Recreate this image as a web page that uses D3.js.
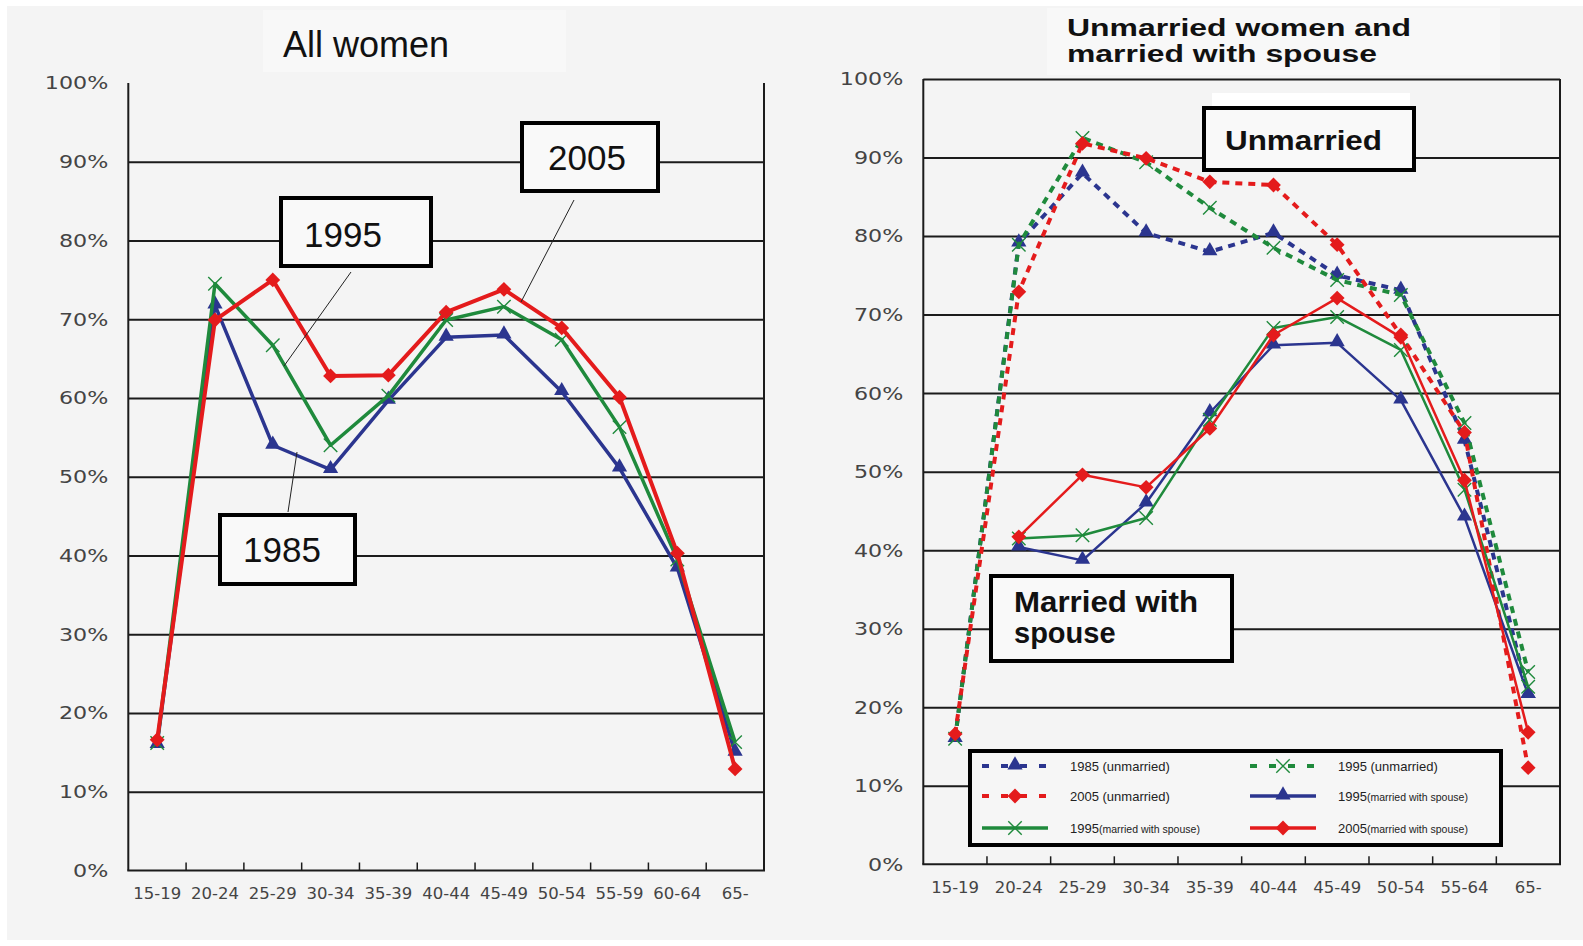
<!DOCTYPE html>
<html>
<head>
<meta charset="utf-8">
<script src="https://cdn.jsdelivr.net/npm/d3@7"></script>
<style>
body { margin: 0; background: #ffffff; }
svg { display: block; }
.ylab { font-family: "DejaVu Sans", sans-serif; font-size: 18.5px; fill: #444; }
.xlab { font-family: "DejaVu Sans", sans-serif; font-size: 16.5px; fill: #444; }
.box-text { font-family: "Liberation Sans", Arial, sans-serif; fill: #111; }
.legend--text { font-family: "Liberation Sans", Arial, sans-serif; font-size: 13px; fill: #222; }
</style>
</head>
<body>
<svg id="chart" width="1583" height="946"></svg>
<script>
// categories
const leftCats = ["15-19", "20-24", "25-29", "30-34", "35-39", "40-44", "45-49", "50-54", "55-59", "60-64", "65-"];
const rightCats = ["15-19", "20-24", "25-29", "30-34", "35-39", "40-44", "45-49", "50-54", "55-64", "65-"];
const yTicks = [0, 10, 20, 30, 40, 50, 60, 70, 80, 90, 100];

// All women (%)
const all1985 = [16.0, 71.8, 54.0, 50.9, 59.7, 67.7, 68.0, 60.8, 51.1, 38.4, 15.0];
const all1995 = [16.2, 74.5, 66.7, 54.0, 60.3, 69.9, 71.6, 67.4, 56.3, 39.5, 16.3];
const all2005 = [16.6, 69.9, 75.0, 62.8, 62.9, 70.9, 73.8, 68.9, 60.1, 40.3, 12.9];

// Unmarried (%)
const unm1985 = [16.0, 79.1, 88.0, 80.4, 78.0, 80.4, 75.0, 73.1, 54.0, 21.6];
const unm1995 = [16.0, 78.9, 92.5, 89.4, 83.6, 78.5, 74.4, 72.5, 56.2, 24.5];
const unm2005 = [16.6, 72.9, 91.8, 89.9, 86.9, 86.5, 78.9, 67.4, 55.0, 12.3];

// Married with spouse (%)
const mar1985 = [null, 40.4, 38.7, 46.0, 57.5, 66.1, 66.4, 59.1, 44.2, 21.6];
const mar1995 = [null, 41.5, 41.9, 44.1, 56.6, 68.3, 69.7, 65.5, 47.7, 22.6];
const mar2005 = [null, 41.7, 49.6, 48.0, 55.5, 67.4, 72.1, 67.1, 48.9, 16.8];

const blue = "#2b358f";
const green = "#1f8a3c";
const red = "#e41b1c";

const svg = d3.select("#chart");

// background panel
svg.append("rect").attr("x", 7).attr("y", 6).attr("width", 1576).attr("height", 934).attr("fill", "#f4f4f4");
svg.append("rect").attr("x", 263).attr("y", 10).attr("width", 303).attr("height", 62).attr("fill", "#f8f8f8");
svg.append("rect").attr("x", 1047).attr("y", 8).attr("width", 453).attr("height", 67).attr("fill", "#f8f8f8");

function marker(sel, type, color, cx, cy) {
    if (type === "triangle") {
        sel.append("path")
            .attr("d", d3.symbol(d3.symbolTriangle, 100)())
            .attr("transform", `translate(${cx},${cy - 1})`)
            .attr("fill", color);
    } else if (type === "diamond") {
        sel.append("path")
            .attr("d", d3.symbol(d3.symbolSquare, 110)())
            .attr("transform", `translate(${cx},${cy}) rotate(45)`)
            .attr("fill", color);
    } else {
        sel.append("path")
            .attr("d", d3.symbol(d3.symbolX, 120)())
            .attr("transform", `translate(${cx},${cy})`)
            .attr("fill", "none")
            .attr("stroke", color)
            .attr("stroke-width", 1.4);
    }
}

// Title Draws one chart frame with grid, axes and labels
function drawPanel(cats, x0, x1, y0, y1, framed) {
    const x = d3.scaleBand().domain(cats).range([x0, x1]).padding(0);
    const y = d3.scaleLinear().domain([0, 100]).range([y0, y1]);
    const g = svg.append("g");

    // gridlines
    g.append("g")
        .attr("transform", `translate(${x0},0)`)
        .call(d3.axisLeft(y).tickValues(yTicks.filter(t => t > 0 && (framed || t < 100))).tickSize(-(x1 - x0)).tickFormat(""))
        .call(s => s.select(".domain").remove())
        .selectAll("line")
        .attr("stroke", "#1b1b1b")
        .attr("stroke-width", 2);

    // y labels
    g.append("g")
        .attr("transform", `translate(${x0},0)`)
        .call(d3.axisLeft(y).tickValues(yTicks).tickSize(0).tickFormat(d => d + "%"))
        .call(s => s.select(".domain").remove())
        .selectAll("text")
        .attr("class", "ylab")
        .attr("x", -20 / 1.2)
        .attr("transform", "scale(1.2,1)");

    // x labels
    g.append("g")
        .attr("transform", `translate(0,${y0})`)
        .call(d3.axisBottom(x).tickSize(0).tickPadding(17))
        .call(s => s.select(".domain").remove())
        .selectAll("text")
        .attr("class", "xlab");

    // frame lines
    g.append("line").attr("x1", x0).attr("x2", x0).attr("y1", y1).attr("y2", y0)
        .attr("stroke", "#1b1b1b").attr("stroke-width", 2);
    g.append("line").attr("x1", x1).attr("x2", x1).attr("y1", y1).attr("y2", y0)
        .attr("stroke", "#1b1b1b").attr("stroke-width", 2);
    g.append("line").attr("x1", x0 - 1).attr("x2", x1 + 1).attr("y1", y0).attr("y2", y0)
        .attr("stroke", "#1b1b1b").attr("stroke-width", 2);

    // inner ticks between categories
    cats.slice(1).forEach(function(c) {
        g.append("line")
            .attr("x1", x(c)).attr("x2", x(c))
            .attr("y1", y0).attr("y2", y0 - 8)
            .attr("stroke", "#1b1b1b")
            .attr("stroke-width", 1.5);
    });

    return { x: x, y: y, cats: cats };
}

function drawSeries(p, values, color, type, width, dashed) {
    const cx = (d, i) => p.x(p.cats[i]) + p.x.bandwidth() / 2;
    const line = d3.line()
        .defined(d => d != null)
        .x(cx)
        .y(d => p.y(d));

    const g = svg.append("g");
    g.append("path")
        .attr("d", line(values))
        .attr("fill", "none")
        .attr("stroke", color)
        .attr("stroke-width", width)
        .attr("stroke-linejoin", "round")
        .attr("stroke-dasharray", dashed ? "7,6" : null);

    values.forEach(function(d, i) {
        if (d == null) return;
        marker(g, type, color, cx(d, i), p.y(d));
    });
}

function labelBox(x0, y0, x1, y1) {
    svg.append("rect")
        .attr("x", x0 + 2).attr("y", y0 + 2)
        .attr("width", x1 - x0 - 4).attr("height", y1 - y0 - 4)
        .attr("fill", "#f9f9f9")
        .attr("stroke", "#000")
        .attr("stroke-width", 4);
}

function leader(xa, ya, xb, yb) {
    svg.append("line")
        .attr("x1", xa).attr("y1", ya).attr("x2", xb).attr("y2", yb)
        .attr("stroke", "#222").attr("stroke-width", 1);
}

// left chart
const left = drawPanel(leftCats, 128.3, 764, 870.5, 83, false);
drawSeries(left, all1985, blue, "triangle", 3.5, false);
drawSeries(left, all1995, green, "x", 3.5, false);
drawSeries(left, all2005, red, "diamond", 4, false);

svg.append("text").attr("class", "box-text")
    .attr("x", 283).attr("y", 57)
    .attr("font-size", 36)
    .text("All women");

leader(574, 200, 521, 302);
leader(351, 272, 284, 366);
leader(288, 512, 297, 452);

labelBox(520, 121, 660, 193);
svg.append("text").attr("class", "box-text")
    .attr("x", 587).attr("y", 170).attr("text-anchor", "middle")
    .attr("font-size", 35).text("2005");

labelBox(279, 196, 433, 268);
svg.append("text").attr("class", "box-text")
    .attr("x", 343).attr("y", 247).attr("text-anchor", "middle")
    .attr("font-size", 35).text("1995");

labelBox(218, 513, 357, 586);
svg.append("text").attr("class", "box-text")
    .attr("x", 282).attr("y", 562).attr("text-anchor", "middle")
    .attr("font-size", 35).text("1985");

// right chart
const right = drawPanel(rightCats, 923.3, 1560, 864.3, 79, true);
drawSeries(right, unm1985, blue, "triangle", 4, true);
drawSeries(right, unm1995, green, "x", 4, true);
drawSeries(right, unm2005, red, "diamond", 4, true);
drawSeries(right, mar1985, blue, "triangle", 2.5, false);
drawSeries(right, mar1995, green, "x", 2.5, false);
drawSeries(right, mar2005, red, "diamond", 2.5, false);

// two-line titles kept as one text element each
const rTitle = svg.append("text").attr("class", "box-text")
    .attr("font-size", 23.5).attr("font-weight", "bold");
rTitle.append("tspan")
    .attr("x", 1067).attr("y", 36)
    .attr("textLength", 344).attr("lengthAdjust", "spacingAndGlyphs")
    .text("Unmarried women and");
rTitle.append("tspan")
    .attr("x", 1067).attr("y", 62)
    .attr("textLength", 310).attr("lengthAdjust", "spacingAndGlyphs")
    .text("married with spouse");

svg.append("rect").attr("x", 1212).attr("y", 93).attr("width", 198).attr("height", 14).attr("fill", "#ffffff");
labelBox(1202, 106, 1416, 172);
svg.append("text").attr("class", "box-text")
    .attr("x", 1225).attr("y", 150)
    .attr("font-size", 28).attr("font-weight", "bold")
    .attr("textLength", 157).attr("lengthAdjust", "spacingAndGlyphs")
    .text("Unmarried");

labelBox(989, 574, 1234, 663);
const mTitle = svg.append("text").attr("class", "box-text")
    .attr("font-size", 29).attr("font-weight", "bold");
mTitle.append("tspan").attr("x", 1014).attr("y", 612)
    .attr("textLength", 184).attr("lengthAdjust", "spacingAndGlyphs").text("Married with");
mTitle.append("tspan").attr("x", 1014).attr("y", 643).text("spouse");

// legend
const legendItems = [
    { year: "1985", note: " (unmarried)", small: false, color: blue, type: "triangle", dashed: true, col: 0, row: 0 },
    { year: "1995", note: " (unmarried)", small: false, color: green, type: "x", dashed: true, col: 1, row: 0 },
    { year: "2005", note: " (unmarried)", small: false, color: red, type: "diamond", dashed: true, col: 0, row: 1 },
    { year: "1995", note: "(married with spouse)", small: true, color: blue, type: "triangle", dashed: false, col: 1, row: 1 },
    { year: "1995", note: "(married with spouse)", small: true, color: green, type: "x", dashed: false, col: 0, row: 2 },
    { year: "2005", note: "(married with spouse)", small: true, color: red, type: "diamond", dashed: false, col: 1, row: 2 }
];

const legend = svg.append("g");
legend.append("rect")
    .attr("x", 970).attr("y", 751)
    .attr("width", 531).attr("height", 94)
    .attr("fill", "#f6f6f6")
    .attr("stroke", "#000")
    .attr("stroke-width", 4);

const colX = [982, 1250];
const rowY = [766, 796, 828];

legendItems.forEach(function(d) {
    const lx = colX[d.col];
    const ly = rowY[d.row];
    legend.append("line")
        .attr("x1", lx).attr("x2", lx + 66)
        .attr("y1", ly).attr("y2", ly)
        .attr("stroke", d.color)
        .attr("stroke-width", d.dashed ? 4 : 3.5)
        .attr("stroke-dasharray", d.dashed ? "7,12" : null);
    marker(legend, d.type, d.color, lx + 33, ly);

    const t = legend.append("text")
        .attr("class", "legend--text")
        .attr("x", lx + 88)
        .attr("y", ly + 5);
    t.append("tspan").text(d.year);
    t.append("tspan").attr("font-size", d.small ? 10.5 : 13).text(d.note);
});
</script>
</body>
</html>
